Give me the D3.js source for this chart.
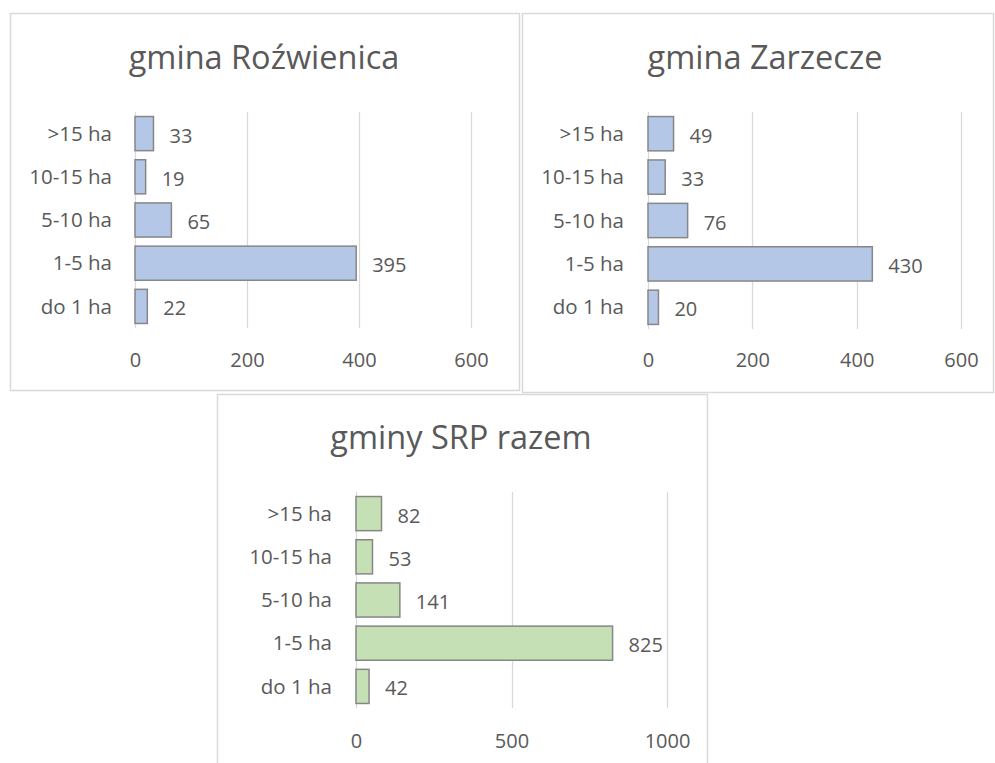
<!DOCTYPE html>
<html><head><meta charset="utf-8">
<script src="https://cdn.jsdelivr.net/npm/d3@7"></script>
<style>
html,body{margin:0;padding:0;background:#fff;}
svg{display:block;}
text{font-family:"Open Sans",sans-serif;fill:#595959;}
</style></head>
<body>
<svg id="chart" width="995" height="763"></svg>
<script>
// ---- data ----
const categories = ["do 1 ha", "1-5 ha", "5-10 ha", "10-15 ha", ">15 ha"];
const valuesRozwienica = [22, 395, 65, 19, 33];
const valuesZarzecze = [20, 430, 76, 33, 49];
const valuesRazem = [42, 825, 141, 53, 82];
const ticksSmall = [0, 200, 400, 600];
const ticksLarge = [0, 500, 1000];
const titles = ["gmina Roźwienica", "gmina Zarzecze", "gminy SRP razem"];

// ---- layout ----
const panels = [
  {title: titles[0], values: valuesRozwienica, ticks: ticksSmall, fill: "#B4C7E7",
   box: [10, 13, 509, 377], x0: 135, x1: 471, yTop: 112, yBot: 328, labelX: 112, tickY: 360, titleX: 264, titleY: 58},
  {title: titles[1], values: valuesZarzecze, ticks: ticksSmall, fill: "#B4C7E7",
   box: [522, 13, 471, 379], x0: 648, x1: 961, yTop: 112, yBot: 329, labelX: 624, tickY: 360, titleX: 765, titleY: 58},
  {title: titles[2], values: valuesRazem, ticks: ticksLarge, fill: "#C5E0B4",
   box: [217, 394, 490, 380], x0: 356, x1: 667, yTop: 492, yBot: 708, labelX: 332, tickY: 741, titleX: 461, titleY: 438}
];

const svg = d3.select("#chart");

panels.forEach(p => {
  const g = svg.append("g");
  g.append("rect")
    .attr("x", p.box[0] + 0.5).attr("y", p.box[1] + 0.5)
    .attr("width", p.box[2]).attr("height", p.box[3])
    .attr("fill", "#fff").attr("stroke", "#D9D9D9").attr("stroke-width", 1.5);

  const x = d3.scaleLinear().domain([0, p.ticks[p.ticks.length - 1]]).range([p.x0, p.x1]);
  const y = d3.scaleBand().domain(categories.slice().reverse()).range([p.yTop, p.yBot]).paddingInner(0.21).paddingOuter(0.105);

  // gridlines
  g.append("g").selectAll("line").data(p.ticks).join("line")
    .attr("x1", d => Math.round(x(d)) + 0.5).attr("x2", d => Math.round(x(d)) + 0.5)
    .attr("y1", p.yTop).attr("y2", p.yBot)
    .attr("stroke", "#D9D9D9").attr("stroke-width", 1.3);

  // x axis tick labels
  const xAxis = d3.axisBottom(x).tickValues(p.ticks).tickSize(0).tickPadding(0).tickFormat(d3.format("d"));
  const ax = g.append("g").attr("transform", `translate(0,${p.tickY})`).call(xAxis);
  ax.select(".domain").remove();
  ax.selectAll("text").attr("font-size", 20).attr("dy", "0.35em").attr("y", 0)
    .style("font-family", "'Open Sans',sans-serif").attr("fill", "#595959");

  // y axis labels
  const yAxis = d3.axisLeft(y).tickSize(0).tickPadding(0);
  const ay = g.append("g").attr("transform", `translate(${p.labelX},0)`).call(yAxis);
  ay.select(".domain").remove();
  ay.selectAll("text").attr("font-size", 20.5).attr("dy", "0.35em")
    .style("font-family", "'Open Sans',sans-serif").attr("fill", "#595959");

  const data = categories.map((c, i) => ({c, v: p.values[i]}));
  g.append("g").selectAll("rect").data(data).join("rect")
    .attr("x", x(0)).attr("y", d => y(d.c))
    .attr("width", d => x(d.v) - x(0)).attr("height", y.bandwidth())
    .attr("fill", p.fill).attr("stroke", "#878787").attr("stroke-width", 1.5);

  g.append("g").selectAll("text").data(data).join("text")
    .attr("x", d => x(d.v) + 16).attr("y", d => y(d.c) + y.bandwidth() / 2 + 2)
    .attr("dy", "0.35em").attr("font-size", 20).text(d => d.v);

  g.append("text").attr("x", p.titleX).attr("y", p.titleY).attr("dy", "0.35em")
    .attr("text-anchor", "middle").attr("font-size", 32.5).text(p.title);
});
</script>
</body></html>
